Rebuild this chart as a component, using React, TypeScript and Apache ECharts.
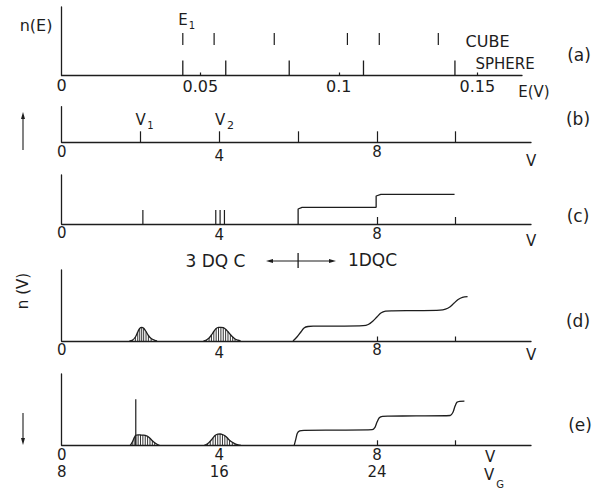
import React, { useEffect, useRef } from "react";
import * as echarts from "echarts";

// ---------- Panel (a): energy levels n(E) ----------
const cubeLevels = [0.0437, 0.055, 0.0767, 0.1031, 0.1146, 0.1359];
const sphereLevels = [0.0437, 0.0592, 0.0821, 0.1089, 0.1419];
const cubeMarkSpan = [30.5, 42.5];
const sphereMarkSpan = [0, 15];
const energyTicks = [0.05, 0.1, 0.15];
const energyLabels = [0, 0.05, 0.1, 0.15];

// ---------- Panels (b)-(e): V axis ----------
const levelTicksB = [2, 4, 6, 8, 10];
const vLabels = [0, 4, 8];
const vgLabels = ["8", "16", "24"];
const smallTicks = [8, 10];

// (c)
const cSticks = [
  [2.06, 0, 14],
  [3.91, 0, 14],
  [4.02, 0, 14],
  [4.13, 0, 14],
];
const cStep = [
  [6.0, 0], [6.0, 15], [6.1, 16.7], [7.98, 16.7], [7.98, 28], [8.1, 29.7], [9.97, 29.7],
];

// (d)
const dPeak1 = [
  [1.72, 0], [1.8, 1], [1.87, 4], [1.93, 9], [1.98, 12.7], [2.03, 13.7], [2.08, 12.8],
  [2.14, 9.5], [2.2, 5.5], [2.27, 2.5], [2.35, 0.8], [2.42, 0],
];
const dPeak2 = [
  [3.6, 0], [3.67, 1], [3.74, 3], [3.8, 6], [3.86, 9.5], [3.92, 12.5], [3.98, 13.6],
  [4.04, 13.7], [4.1, 13.3], [4.16, 11.8], [4.22, 9.3], [4.28, 6.5], [4.34, 4],
  [4.4, 2], [4.47, 0.8], [4.54, 0],
];
const dStep = [
  [5.87, 0], [5.97, 4], [6.07, 9], [6.15, 13], [6.25, 14.5], [6.4, 14.8], [7.0, 14.9],
  [7.65, 15.3], [7.78, 16.5], [7.9, 20], [8.0, 24], [8.1, 28], [8.22, 29.8], [8.4, 30.2],
  [9.0, 30.4], [9.6, 30.8], [9.74, 31.8], [9.85, 34], [9.96, 38], [10.06, 41.5],
  [10.17, 43.7], [10.3, 44.4],
];

// (e)
const eSpike = [[1.88, 0, 46]];
const ePeak1 = [
  [1.74, 0], [1.79, 3], [1.84, 7.5], [1.88, 10], [1.94, 10.4], [2.0, 10.3], [2.06, 10.2],
  [2.12, 10], [2.18, 9], [2.24, 7], [2.3, 4.5], [2.36, 2.5], [2.42, 1], [2.48, 0],
];
const ePeak2 = [
  [3.62, 0], [3.7, 1.5], [3.77, 4], [3.84, 7.5], [3.9, 10], [3.96, 11.2], [4.02, 11.3],
  [4.08, 10.8], [4.14, 9.5], [4.2, 7.5], [4.26, 5], [4.33, 3], [4.4, 1.5], [4.48, 0.5],
  [4.55, 0],
];
const eStep = [
  [5.9, 0], [5.94, 6], [5.98, 12], [6.04, 14.4], [6.15, 15], [7.0, 15.2], [7.88, 15.6],
  [7.95, 18], [8.0, 23], [8.06, 27.5], [8.14, 29], [8.3, 29.2], [9.0, 29.4], [9.86, 29.8],
  [9.93, 33], [9.98, 39], [10.03, 43], [10.1, 44], [10.22, 44.1],
];

const INK = "#1d1d1d";
const FONT = "DejaVu Sans";
const X0 = 61.7;
const V_MAX = 11.91;
const E_MAX = 0.1661;

const grids = [
  { left: X0, top: 7, width: 460.3, height: 68.5 },
  { left: X0, top: 106.7, width: 469.3, height: 35.6 },
  { left: X0, top: 175, width: 469.3, height: 49 },
  { left: X0, top: 270, width: 469.3, height: 71 },
  { left: X0, top: 374, width: 469.3, height: 71.3 },
];

const axisLine = { show: true, lineStyle: { color: INK, width: 1.3 } };

function tok(size: number, padTop: number, lh?: number) {
  return {
    fontSize: size,
    fontFamily: FONT,
    color: INK,
    lineHeight: lh ?? size,
    padding: [padTop, 0, 0, 0],
  };
}

function xAxisFor(
  gi: number,
  max: number,
  ticks: number[],
  tickLen: number,
  labels: number[],
  drops: Record<string, number>,
  name: string,
  nameGap: number,
  namePad: number,
  twoRow?: boolean
) {
  const rich: Record<string, any> = {};
  labels.forEach((v, i) => {
    rich["t" + i] = tok(15, drops[String(v)] ?? 5, 15);
  });
  rich.g = tok(15, 9, 15);
  return {
    type: "value",
    gridIndex: gi,
    min: 0,
    max,
    axisLine,
    axisTick: {
      show: true,
      inside: true,
      length: tickLen,
      customValues: ticks,
      lineStyle: { color: INK, width: 1.2 },
    },
    axisLabel: {
      show: true,
      margin: 0,
      customValues: labels,
      formatter: (v: number) => {
        const i = labels.indexOf(v);
        if (i < 0) return "";
        const top = `{t${i}|${v}}`;
        return twoRow ? `${top}\n{g|${vgLabels[i]}}` : top;
      },
      rich,
    },
    splitLine: { show: false },
    name,
    nameLocation: "end",
    nameGap,
    nameTextStyle: {
      fontSize: 15,
      fontFamily: FONT,
      color: INK,
      align: "center",
      verticalAlign: "top",
      padding: [namePad, 0, 0, 0],
    },
  };
}

function yAxisFor(gi: number, max: number) {
  return {
    type: "value",
    gridIndex: gi,
    min: 0,
    max,
    axisLine,
    axisTick: { show: false },
    axisLabel: { show: false },
    splitLine: { show: false },
  };
}

function sticks(gi: number, data: number[][], width: number) {
  return {
    type: "custom",
    xAxisIndex: gi,
    yAxisIndex: gi,
    silent: true,
    clip: false,
    encode: { x: 0, y: [1, 2] },
    data,
    renderItem: (_p: any, api: any) => {
      const a = api.coord([api.value(0), api.value(1)]);
      const b = api.coord([api.value(0), api.value(2)]);
      return {
        type: "line",
        shape: { x1: a[0], y1: a[1], x2: b[0], y2: b[1] },
        style: { stroke: INK, lineWidth: width },
      };
    },
  };
}

function hatch(gi: number, data: number[][]) {
  return {
    type: "custom",
    xAxisIndex: gi,
    yAxisIndex: gi,
    silent: true,
    clip: false,
    data,
    renderItem: (_p: any, api: any) => {
      const h = api.value(1);
      if (!(h > 0.8)) return null;
      const a = api.coord([api.value(0), 0]);
      const b = api.coord([api.value(0), h]);
      return {
        type: "line",
        shape: { x1: a[0], y1: a[1], x2: b[0], y2: b[1] },
        style: { stroke: INK, lineWidth: 0.9 },
      };
    },
  };
}

function curve(gi: number, data: number[][], smooth: number | boolean) {
  return {
    type: "line",
    xAxisIndex: gi,
    yAxisIndex: gi,
    silent: true,
    symbol: "none",
    smooth,
    data,
    lineStyle: { color: INK, width: 1.3 },
  };
}

function txt(text: string, x: number, y: number, size: number, extra: any = {}) {
  return {
    type: "text",
    x,
    y,
    silent: true,
    ...extra,
    style: {
      text,
      fontSize: size,
      fontFamily: FONT,
      fill: INK,
      align: "center",
      verticalAlign: "middle",
    },
  };
}

function seg(x1: number, y1: number, x2: number, y2: number, w = 1.2) {
  return {
    type: "line",
    silent: true,
    shape: { x1, y1, x2, y2 },
    style: { stroke: INK, lineWidth: w },
  };
}

function head(points: number[][]) {
  return { type: "polygon", silent: true, shape: { points }, style: { fill: INK } };
}

function buildOption() {
  return {
    animation: false,
    backgroundColor: "#ffffff",
    grid: grids,
    xAxis: [
      {
        type: "value",
        gridIndex: 0,
        min: 0,
        max: E_MAX,
        axisLine,
        axisTick: {
          show: true,
          inside: true,
          length: 3,
          customValues: energyTicks,
          lineStyle: { color: INK, width: 1.2 },
        },
        axisLabel: {
          show: true,
          margin: 0,
          customValues: energyLabels,
          formatter: (v: number) => (v === 0 ? `{z|0}` : `{n|${v}}`),
          rich: { z: tok(16, 3.5, 16), n: tok(16, 5.5, 16) },
        },
        splitLine: { show: false },
        name: "E(V)",
        nameLocation: "end",
        nameGap: 12,
        nameTextStyle: {
          fontSize: 15,
          fontFamily: FONT,
          color: INK,
          align: "center",
          verticalAlign: "top",
          padding: [8.5, 0, 0, 0],
        },
      },
      xAxisFor(1, V_MAX, levelTicksB, 11, vLabels, { "0": 4.7, "4": 12.2, "8": 4.7 }, "V", 0, 11),
      xAxisFor(2, V_MAX, smallTicks, 7, vLabels, { "0": 3.5, "4": 7, "8": 5 }, "V", 0, 9.5),
      xAxisFor(3, V_MAX, smallTicks, 4.5, vLabels, { "0": 2.5, "4": 8.5, "8": 3 }, "V", 0, 6.5),
      xAxisFor(4, V_MAX, smallTicks, 5, vLabels, { "0": 4.7, "4": 4.7, "8": 3.5 }, "V", -41, 4, true),
    ],
    yAxis: [
      yAxisFor(0, 68.5),
      yAxisFor(1, 35.6),
      yAxisFor(2, 49),
      yAxisFor(3, 71),
      yAxisFor(4, 71.3),
    ],
    series: [
      sticks(0, cubeLevels.map((e) => [e, cubeMarkSpan[0], cubeMarkSpan[1]]), 1.2),
      sticks(0, sphereLevels.map((e) => [e, sphereMarkSpan[0], sphereMarkSpan[1]]), 1.3),
      sticks(2, cSticks, 1.2),
      curve(2, cStep, false),
      hatch(3, dPeak1),
      hatch(3, dPeak2),
      curve(3, dPeak1, 0.35),
      curve(3, dPeak2, 0.35),
      curve(3, dStep, 0.35),
      hatch(4, ePeak1),
      hatch(4, ePeak2),
      curve(4, ePeak1, 0.35),
      curve(4, ePeak2, 0.35),
      sticks(4, eSpike, 1.2),
      curve(4, eStep, 0.25),
    ],
    graphic: [
      txt("n(E)", 36, 25, 16),
      txt("E", 183, 20, 15),
      txt("1", 192, 25, 10),
      txt("CUBE", 487.5, 41, 16),
      txt("SPHERE", 505, 63.5, 15),
      txt("(a)", 579, 55, 17),
      txt("V", 140.5, 120, 15),
      txt("1", 150.5, 125, 10),
      txt("V", 220, 120, 15),
      txt("2", 230.5, 125, 11),
      txt("(b)", 578, 118.5, 17),
      txt("(c)", 578, 215.5, 17),
      txt("3 DQ C", 215.5, 261, 17),
      txt("1DQC", 372.5, 260, 17),
      seg(271, 261, 331, 261, 1.1),
      head([[266, 261], [273, 259], [273, 263]]),
      head([[336, 261], [329, 259], [329, 263]]),
      seg(298.1, 253, 298.1, 268, 1.3),
      txt("n (V)", 23, 291, 15, { rotation: Math.PI / 2 }),
      txt("(d)", 578, 321, 17),
      txt("(e)", 580, 425, 17),
      seg(23, 150, 23, 117, 1.1),
      head([[23, 112], [21, 119], [25, 119]]),
      seg(23, 413, 23, 440, 1.1),
      head([[23, 445], [21, 438], [25, 438]]),
      txt("V", 489, 475, 15),
      txt("G", 500, 484, 10),
    ],
  };
}

export default function App() {
  const ref = useRef<HTMLDivElement>(null);
  useEffect(() => {
    if (!ref.current) return;
    const chart = echarts.init(ref.current, null, { renderer: "svg" });
    chart.setOption(buildOption() as any);
    return () => chart.dispose();
  }, []);
  return (
    <div
      ref={ref}
      style={{ position: "absolute", left: 0, top: 0, width: 610, height: 502, background: "#fff" }}
    />
  );
}
